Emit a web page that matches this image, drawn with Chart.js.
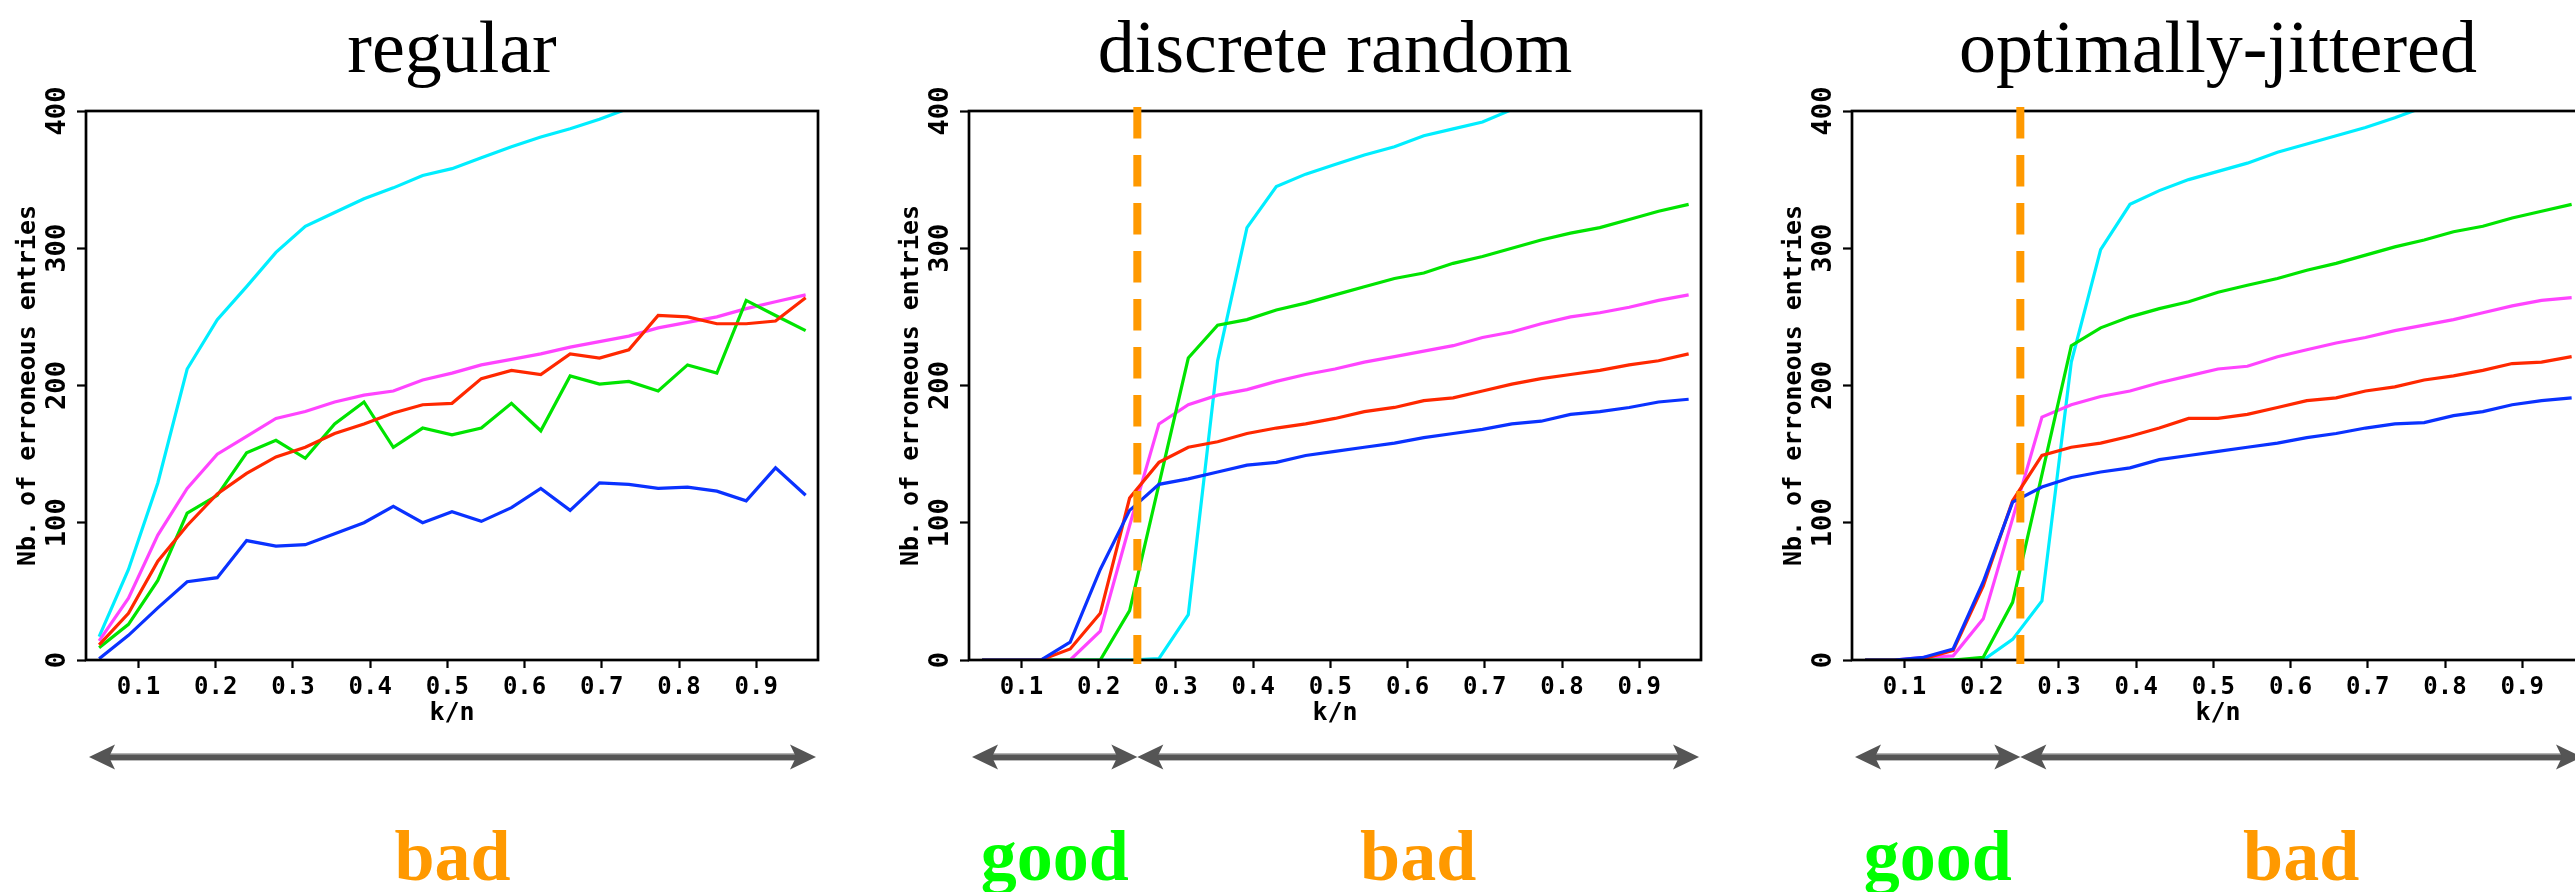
<!DOCTYPE html>
<html>
<head>
<meta charset="utf-8">
<title>Erroneous entries vs k/n</title>
<script src="https://cdn.jsdelivr.net/npm/chart.js@4.4.1/dist/chart.umd.min.js"></script>
<style>
  html, body { margin: 0; padding: 0; background: #ffffff; width: 2575px; height: 892px; overflow: hidden; position: relative; }
  canvas { position: absolute; top: 0; }
</style>
</head>
<body>
<script>
// Sampled k/n ratios (shared by all three sampling schemes)
const kOverN = [0.049, 0.087, 0.125, 0.163, 0.202, 0.240, 0.278, 0.316, 0.354, 0.392,
                0.430, 0.468, 0.506, 0.544, 0.583, 0.621, 0.659, 0.697, 0.735, 0.773,
                0.811, 0.849, 0.887, 0.925, 0.964];

// Axis settings and tick labels
const xRange = [0.032, 0.98];
const yRange = [0, 400];
const xTickValues = [0.1, 0.2, 0.3, 0.4, 0.5, 0.6, 0.7, 0.8, 0.9];
const yTickValues = [0, 100, 200, 300, 400];

const panelTitles = ['regular', 'discrete random', 'optimally-jittered'];
const goodLimit = 0.25;

// regular sampling
const regularBlue    = [1, 18, 38, 57, 60, 87, 83, 84, 92, 100, 112, 100, 108, 101, 111, 125, 109, 129, 128, 125, 126, 123, 116, 140, 120];
const regularRed     = [11, 34, 72, 98, 121, 136, 148, 155, 165, 172, 180, 186, 187, 205, 211, 208, 223, 220, 226, 251, 250, 245, 245, 247, 264];
const regularGreen   = [9, 26, 58, 107, 120, 151, 160, 147, 172, 188, 155, 169, 164, 169, 187, 167, 207, 201, 203, 196, 215, 209, 262, 251, 240];
const regularMagenta = [14, 45, 91, 125, 150, 163, 176, 181, 188, 193, 196, 204, 209, 215, 219, 223, 228, 232, 236, 242, 246, 250, 256, 261, 266];
const regularCyan    = [17, 66, 129, 212, 248, 272, 297, 316, 326, 336, 344, 353, 358, 366, 374, 381, 387, 394, 402, null, null, null, null, null, null];

// discrete random sampling
const discreteBlue    = [0, 0, 0, 13, 66, 109, 128, 132, 137, 142, 144, 149, 152, 155, 158, 162, 165, 168, 172, 174, 179, 181, 184, 188, 190];
const discreteRed     = [0, 0, 0, 8, 34, 118, 144, 155, 159, 165, 169, 172, 176, 181, 184, 189, 191, 196, 201, 205, 208, 211, 215, 218, 223];
const discreteGreen   = [0, 0, 0, 0, 0, 36, 128, 220, 244, 248, 255, 260, 266, 272, 278, 282, 289, 294, 300, 306, 311, 315, 321, 327, 332];
const discreteMagenta = [0, 0, 0, 0, 21, 98, 172, 186, 193, 197, 203, 208, 212, 217, 221, 225, 229, 235, 239, 245, 250, 253, 257, 262, 266];
const discreteCyan    = [0, 0, 0, 0, 0, 0, 1, 33, 218, 315, 345, 354, 361, 368, 374, 382, 387, 392, 401, null, null, null, null, null, null];

// optimally-jittered sampling
const jitterBlue    = [0, 0, 2, 8, 57, 115, 126, 133, 137, 140, 146, 149, 152, 155, 158, 162, 165, 169, 172, 173, 178, 181, 186, 189, 191];
const jitterRed     = [0, 0, 1, 7, 54, 116, 149, 155, 158, 163, 169, 176, 176, 179, 184, 189, 191, 196, 199, 204, 207, 211, 216, 217, 221];
const jitterGreen   = [0, 0, 0, 0, 2, 42, 135, 229, 242, 250, 256, 261, 268, 273, 278, 284, 289, 295, 301, 306, 312, 316, 322, 327, 332];
const jitterMagenta = [0, 0, 2, 3, 30, 103, 177, 186, 192, 196, 202, 207, 212, 214, 221, 226, 231, 235, 240, 244, 248, 253, 258, 262, 264];
const jitterCyan    = [0, 0, 0, 0, 0, 15, 43, 217, 299, 332, 342, 350, 356, 362, 370, 376, 382, 388, 395, 403, null, null, null, null, null];

const seriesColors = ['#0a32ff', '#ff2800', '#00e400', '#ff44ff', '#00eeff'];

const panelSeries = [
  [regularBlue, regularRed, regularGreen, regularMagenta, regularCyan],
  [discreteBlue, discreteRed, discreteGreen, discreteMagenta, discreteCyan],
  [jitterBlue, jitterRed, jitterGreen, jitterMagenta, jitterCyan]
];

// Ranges marked under each plot, with their verdicts
const regionEdges  = [[xRange[0], xRange[1]], [xRange[0], goodLimit, xRange[1]], [xRange[0], goodLimit, xRange[1]]];
const regionLabels = [['bad'], ['good', 'bad'], ['good', 'bad']];
const verdictColors = { good: '#00ff00', bad: '#ff9900' };

const PANEL_W = 883, PANEL_H = 892;
const MONO = '"DejaVu Sans Mono", monospace';

function drawArrowHead(ctx, tipX, y, dir) {
  // dir = -1 : pointing left, +1 : pointing right
  const len = 26, half = 12.5, notch = 20;
  ctx.beginPath();
  ctx.moveTo(tipX, y);
  ctx.lineTo(tipX - dir * len, y - half);
  ctx.lineTo(tipX - dir * notch, y);
  ctx.lineTo(tipX - dir * len, y + half);
  ctx.closePath();
  ctx.fill();
}

const panelDecor = {
  id: 'panelDecor',
  afterDraw(chart, args, opts) {
    const { ctx, chartArea: area } = chart;
    const xs = chart.scales.x, ys = chart.scales.y;
    ctx.save();

    // plot frame
    ctx.strokeStyle = '#000';
    ctx.lineWidth = 2.7;
    ctx.strokeRect(area.left, area.top, area.right - area.left, area.bottom - area.top);

    // rotated y tick labels
    ctx.fillStyle = '#000';
    ctx.font = 'bold 27px ' + MONO;
    ctx.textAlign = 'center';
    ctx.textBaseline = 'middle';
    yTickValues.forEach(v => {
      const py = ys.getPixelForValue(v);
      ctx.save();
      ctx.translate(area.left - 28, py);
      ctx.rotate(-Math.PI / 2);
      ctx.fillText(String(v), 0, 0);
      ctx.restore();
    });

    // threshold between good and bad ranges
    if (opts.threshold != null) {
      const px = xs.getPixelForValue(opts.threshold);
      ctx.save();
      ctx.strokeStyle = '#ff9900';
      ctx.lineWidth = 8;
      ctx.lineCap = 'butt';
      ctx.setLineDash([31.5, 16.5]);
      ctx.beginPath();
      ctx.moveTo(px, ys.getPixelForValue(403));
      ctx.lineTo(px, ys.getPixelForValue(-3));
      ctx.stroke();
      ctx.restore();
    }

    // panel title
    ctx.fillStyle = '#000';
    ctx.font = '74px "Liberation Serif", serif';
    ctx.textAlign = 'center';
    ctx.textBaseline = 'alphabetic';
    ctx.fillText(opts.title, (area.left + area.right) / 2, 72);

    // range arrows and verdicts
    const edges = opts.edges, labels = opts.labels;
    const arrowY = 757;
    for (let i = 0; i < labels.length; i++) {
      let x1 = xs.getPixelForValue(edges[i]);
      let x2 = xs.getPixelForValue(edges[i + 1]);
      if (i === 0) x1 += 3;
      if (i === labels.length - 1) x2 -= 2;
      ctx.fillStyle = '#555555';
      ctx.fillRect(x1 + 18, arrowY - 3.4, (x2 - x1) - 36, 6.8);
      ctx.fillStyle = '#a8a8a8';
      ctx.fillRect(x1 + 18, arrowY - 3.4, (x2 - x1) - 36, 1);
      ctx.fillStyle = '#555555';
      drawArrowHead(ctx, x1, arrowY, -1);
      drawArrowHead(ctx, x2, arrowY, 1);

      ctx.fillStyle = verdictColors[labels[i]];
      ctx.font = 'bold 72px "Liberation Serif", serif';
      ctx.textAlign = 'center';
      ctx.textBaseline = 'alphabetic';
      ctx.fillText(labels[i], (x1 + x2) / 2, 880);
    }
    ctx.restore();
  }
};

panelTitles.forEach((title, p) => {
  const canvas = document.createElement('canvas');
  canvas.width = PANEL_W;
  canvas.height = PANEL_H;
  canvas.style.left = (p * PANEL_W) + 'px';
  canvas.style.width = PANEL_W + 'px';
  canvas.style.height = PANEL_H + 'px';
  document.body.appendChild(canvas);

  const datasets = panelSeries[p].map((values, s) => ({
    label: 'series ' + (s + 1),
    data: kOverN.map((k, j) => ({ x: k, y: values[j] })),
    borderColor: seriesColors[s],
    backgroundColor: seriesColors[s],
    borderWidth: 3.2,
    pointRadius: 0,
    tension: 0,
    fill: false,
    spanGaps: false
  }));

  new Chart(canvas, {
    type: 'line',
    data: { datasets },
    plugins: [panelDecor],
    options: {
      responsive: false,
      animation: false,
      devicePixelRatio: 1,
      layout: { padding: { left: 0, right: 65, top: 111, bottom: 0 } },
      plugins: {
        legend: { display: false },
        title: { display: false },
        tooltip: { enabled: false },
        panelDecor: {
          title: title,
          threshold: p === 0 ? null : goodLimit,
          edges: regionEdges[p],
          labels: regionLabels[p]
        }
      },
      scales: {
        x: {
          type: 'linear',
          min: xRange[0],
          max: xRange[1],
          afterBuildTicks: s => { s.ticks = xTickValues.map(v => ({ value: v })); },
          afterFit: s => { s.height = 232; },
          border: { display: false },
          grid: { display: true, drawOnChartArea: false, drawTicks: true, tickLength: 8, tickWidth: 2.2, tickColor: '#000' },
          ticks: {
            color: '#000',
            font: { family: MONO, size: 24, weight: 'bold' },
            padding: 5,
            maxRotation: 0,
            minRotation: 0,
            callback: v => v.toFixed(1)
          },
          title: {
            display: true,
            text: 'k/n',
            color: '#000',
            font: { family: MONO, size: 25, weight: 'bold' },
            padding: { top: 0, bottom: 164 }
          }
        },
        y: {
          type: 'linear',
          min: yRange[0],
          max: yRange[1],
          afterBuildTicks: s => { s.ticks = yTickValues.map(v => ({ value: v })); },
          afterFit: s => { s.width = 86; },
          border: { display: false },
          grid: { display: true, drawOnChartArea: false, drawTicks: true, tickLength: 9, tickWidth: 2.2, tickColor: '#000' },
          ticks: { display: false },
          title: {
            display: true,
            text: 'Nb. of erroneous entries',
            color: '#000',
            font: { family: MONO, size: 25, weight: 'bold' },
            padding: { top: 13, bottom: 0 }
          }
        }
      }
    }
  });
});
</script>
</body>
</html>
